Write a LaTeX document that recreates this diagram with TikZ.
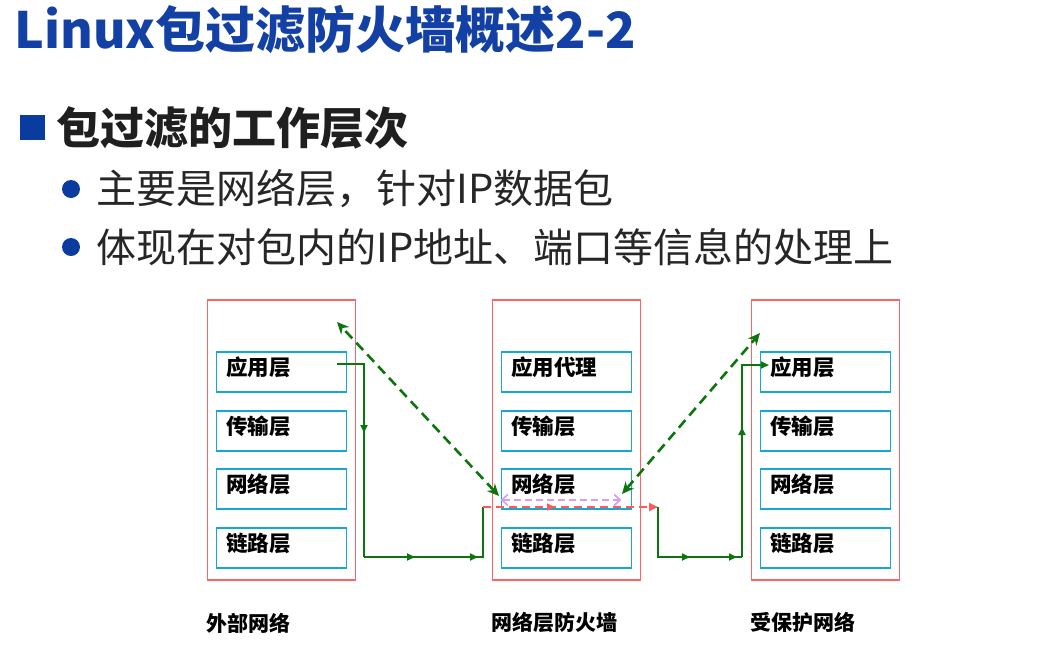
\documentclass[tikz,border=0pt]{standalone}
\usepackage{fontspec}
\setmainfont{Noto Sans CJK SC}
\usetikzlibrary{positioning}
\usetikzlibrary{arrows.meta}
\usetikzlibrary{decorations.markings}
\definecolor{titleblue}{RGB}{18,64,165}
\definecolor{markblue}{RGB}{10,60,160}
\definecolor{framered}{RGB}{255,100,100}
\definecolor{dashred}{RGB}{255,90,90}
\definecolor{layercyan}{RGB}{20,168,210}
\definecolor{pathgreen}{RGB}{12,118,12}
\definecolor{peekviolet}{RGB}{214,158,246}
\tikzset{
	frame/.style={
		draw=framered, line width=1.8pt,
		minimum width=148pt, minimum height=280pt, inner sep=0pt,
	},
	layer/.style={
		draw=layercyan, line width=1.8pt,
		minimum width=130pt, minimum height=40pt,
		text width=111pt, align=left, inner xsep=9.5pt, inner ysep=0pt,
		text height=15pt, text depth=9pt,
		font=\bfseries\fontsize{21.5}{21.5}\selectfont,
	},
	caption/.style={anchor=west, inner sep=0pt, font=\bfseries\fontsize{21}{21}\selectfont},
	flow/.style={draw=pathgreen, line width=2pt, line join=miter},
	probe/.style={draw=pathgreen, line width=2.6pt, dash pattern=on 10pt off 6pt,
		{Stealth[length=12pt,width=11pt]}-{Stealth[length=12pt,width=11pt]}},
	filter/.style={draw=dashred, line width=2pt, dash pattern=on 8pt off 5pt},
	peek/.style={draw=peekviolet, line width=1.7pt, dash pattern=on 7pt off 4pt,
		{Straight Barb[length=6pt,width=11pt]}-{Straight Barb[length=6pt,width=11pt]}},
	midarrows/.style={postaction={decorate}, decoration={markings,
		mark=at position #1 with {\arrow{Triangle[length=8pt,width=7pt]}}}},
	pairarrows/.style 2 args={postaction={decorate}, decoration={markings,
		mark=at position #1 with {\arrow{Triangle[length=8pt,width=7pt]}},
		mark=at position #2 with {\arrow{Triangle[length=8pt,width=7pt]}}}},
}

\begin{document}
\begin{tikzpicture}[x=1pt, y=-1pt]
			\useasboundingbox (0,0) rectangle (1051,648);
			
			% Title and text
			\node[anchor=west, inner sep=0pt, text=titleblue,
				font=\bfseries\fontsize{50}{50}\selectfont] (title) at (14,30) {Linux包过滤防火墙概述2-2};
			\node[fill=markblue, minimum size=25pt, inner sep=0pt] (h-mark) at (32.5,127.5) {};
			\node[anchor=west, inner sep=0pt, text=black!88,
				font=\bfseries\fontsize{44}{44}\selectfont, right=11pt of h-mark] (heading) {包过滤的工作层次};
			\node[circle, fill=markblue, minimum size=18pt, inner sep=0pt] (p-mark) at (71,189) {};
			\node[anchor=west, inner sep=0pt, text=black!85,
				font=\fontsize{40}{40}\selectfont, right=16pt of p-mark] (point-a) {主要是网络层，针对IP数据包};
			\node[circle, fill=markblue, minimum size=18pt, inner sep=0pt] (q-mark) at (71,247) {};
			\node[anchor=west, inner sep=0pt, text=black!85,
				font=\fontsize{40}{40}\selectfont, right=16pt of q-mark] (point-b) {体现在对包内的IP地址、端口等信息的处理上};
			
			% Stacks
			\foreach \col/\x/\top in {ext/281.5/应用层, fw/566.5/应用代理, int/825.5/应用层}{
				\node[frame] (\col) at (\x,440) {};
				\node[layer] (\col-app) at (\x,372) {\top};
				\foreach \row/\y/\txt in {tra/431/传输层, net/489/网络层, lnk/548/链路层}
					\node[layer] (\col-\row) at (\x,\y) {\txt};
			}
			
			% Captions
			\node[caption] (ext-cap) at ([yshift=-42pt]ext.south west) {外部网络};
			\node[caption] (fw-cap) at ([yshift=-42pt]fw.south west) {网络层防火墙};
			\node[caption] (int-cap) at ([yshift=-42pt]int.south west) {受保护网络};
			
			% Turning points
			\coordinate (out-a) at (337,364);
			\coordinate (out-b) at (364,557);
			\coordinate (fw-in) at (483,507);
			\coordinate (fw-out) at (658,507);
			\coordinate (in-b) at (742,557);
			\coordinate (in-a) at (769,365);
			\coordinate (ext-top) at (337,322);
			\coordinate (int-top) at (760,333);
			\coordinate (fw-left) at (499,496);
			\coordinate (fw-right) at (622,494);
			
			% Packet path
			\draw[flow, midarrows=96pt] (out-a) -| (out-b);
			\draw[flow, pairarrows={51pt}{114pt}] (out-b) -| (fw-in);
			\draw[filter, -{Triangle[length=9pt,width=8pt]}, midarrows=72pt] (fw-in) -- (fw-out);
			\draw[flow, pairarrows={82pt}{129pt}] (fw-out) |- (in-b);
			\draw[flow, -{Triangle[length=8pt,width=7pt]}, midarrows=130pt] (in-b) |- (in-a);
			
			% Checks
			\draw[probe] (fw-left) -- (ext-top);
			\draw[probe] (fw-right) -- (int-top);
			\draw[peek] ([yshift=10pt]fw-net.south west) -- ([xshift=-11pt,yshift=10pt]fw-net.south east);
		\end{tikzpicture}
\end{document}
